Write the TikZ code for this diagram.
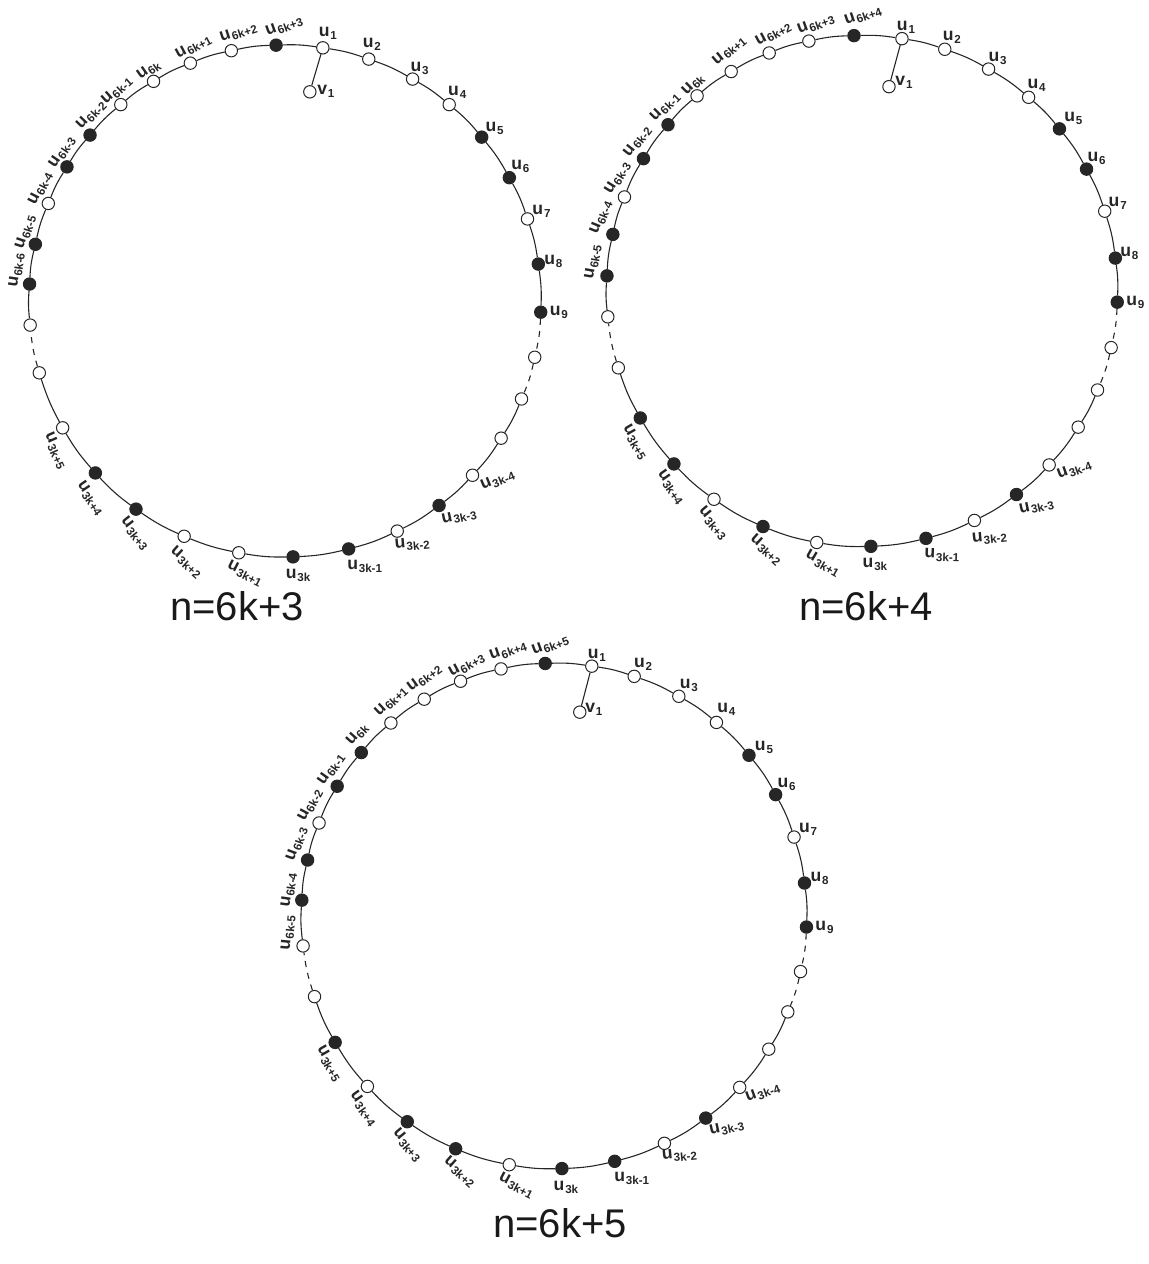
\documentclass[tikz,border=0pt]{standalone}
\usepackage{fontspec}
\setmainfont{Liberation Sans}
\newcommand\usb[2]{#1\kern0.4pt\raisebox{-1.5pt}{\fontsize{5.8}{6}\selectfont #2}}
\newcommand\lbl[4]{\node[lab,rotate=#3] (l#1) at ([shift={(#2)}]#1) {#4};}
\begin{document}
\begin{tikzpicture}[x=0.5pt,y=0.5pt,
  opn/.style={circle,draw=black!85,fill=white,line width=0.5pt,inner sep=0pt,minimum size=6.2pt},
  fil/.style={circle,draw=black!85,fill=black!85,line width=0.5pt,inner sep=0pt,minimum size=6.2pt},
  ring/.style={line width=0.55pt,draw=black!85},
  dsh/.style={ring,dash pattern=on 3pt off 3pt},
  lab/.style={font=\bfseries\fontsize{8.8}{9}\selectfont,inner sep=0pt,text=black!85},
  capt/.style={font=\fontsize{20}{22}\selectfont,text=black!90,inner sep=0pt}]
\useasboundingbox (0,0) rectangle (1148,-1264);
% ---------- circle 1 ----------
\begin{scope}[shift={(285,-301)}]
\foreach \i/\s/\a in {1/opn/81.5,2/opn/70.9,3/opn/60.1,4/opn/50.1,5/fil/39.8,6/fil/28.8,7/opn/18.7,8/fil/8.3,9/fil/-2.5,10/opn/-12.7,11/opn/-22.5,12/opn/-32.4,13/opn/-42.9,14/fil/-53.0,15/opn/-64.0,16/fil/-75.6,17/fil/-88.2,18/opn/-100.4,19/opn/-113.2,20/fil/-125.6,21/fil/-137.8,22/opn/-150.3,23/opn/-163.7,24/opn/-174.6,25/fil/176.2,26/fil/167.2,27/opn/157.6,28/fil/148.4,29/fil/139.6,30/opn/129.9,31/opn/120.9,32/opn/111.7,33/opn/102.1,34/fil/92.0}
  \node[\s] (a\i) at (\a:256) {};
\end{scope}
\node[opn] (va) at ([shift={(-13,-44)}]a1) {};
% ---------- circle 2 ----------
\begin{scope}[shift={(862,-291)}]
\foreach \i/\s/\a in {1/opn/81.0,2/opn/71.1,3/opn/60.3,4/opn/49.3,5/fil/39.4,6/fil/28.5,7/opn/18.2,8/fil/7.4,9/fil/-2.5,10/opn/-12.8,11/opn/-22.8,12/opn/-32.2,13/opn/-42.9,14/fil/-52.8,15/opn/-63.9,16/fil/-75.5,17/fil/-88.0,18/opn/-100.2,19/fil/-112.8,20/opn/-125.4,21/fil/-137.4,22/fil/-150.2,23/opn/-162.5,24/opn/-174.2,25/fil/176.6,26/fil/167.2,27/opn/158.4,28/fil/148.8,29/fil/139.4,30/opn/130.2,31/opn/120.8,32/opn/111.3,33/opn/102.0,34/fil/91.8}
  \node[\s] (b\i) at (\a:255.5) {};
\end{scope}
\node[opn] (vb) at ([shift={(-13,-48)}]b1) {};
% ---------- circle 3 ----------
\begin{scope}[shift={(554,-916)}]
\foreach \i/\s/\a in {1/opn/81.4,2/opn/71.5,3/opn/60.4,4/opn/50.0,5/fil/39.5,6/fil/28.7,7/opn/18.2,8/fil/7.5,9/fil/-2.5,10/opn/-12.7,11/opn/-22.3,12/opn/-31.8,13/opn/-42.7,14/fil/-53.1,15/opn/-64.1,16/fil/-76.1,17/fil/-88.2,18/opn/-100.2,19/fil/-112.9,20/fil/-125.5,21/opn/-137.6,22/fil/-150.0,23/opn/-161.4,24/opn/-173.2,25/fil/176.4,26/fil/167.2,27/opn/158.4,28/fil/149.1,29/fil/139.7,30/opn/130.2,31/opn/120.9,32/opn/111.7,33/opn/102.1,34/fil/92.0}
  \node[\s] (c\i) at (\a:252.7) {};
\end{scope}
\node[opn] (vc) at ([shift={(-12,-46)}]c1) {};
% ---------- ring edges ----------
\foreach \p in {a,b,c}{
  \foreach \i/\j in {1/2,2/3,3/4,4/5,5/6,6/7,7/8,8/9,11/12,12/13,13/14,14/15,15/16,16/17,17/18,18/19,19/20,20/21,21/22,22/23,24/25,25/26,26/27,27/28,28/29,29/30,30/31,31/32,32/33,33/34,34/1}
    \draw[ring] (\p\i) to[bend left=5.3] (\p\j);
  \foreach \i/\j in {9/10,10/11,23/24}
    \draw[dsh] (\p\i) to[bend left=5.3] (\p\j);
}
\draw[ring] (a1) -- (va);
\draw[ring] (b1) -- (vb);
\draw[ring] (c1) -- (vc);
% ---------- labels circle 1 ----------
\lbl{a1}{5,14}{0}{\usb{u}{1}}
\lbl{a2}{3,15}{0}{\usb{u}{2}}
\lbl{a3}{7,11}{0}{\usb{u}{3}}
\lbl{a4}{8,12}{0}{\usb{u}{4}}
\lbl{a5}{13,9}{0}{\usb{u}{5}}
\lbl{a6}{11,11}{0}{\usb{u}{6}}
\lbl{a7}{14,8}{0}{\usb{u}{7}}
\lbl{a8}{15,3}{0}{\usb{u}{8}}
\lbl{a9}{18,0}{0}{\usb{u}{9}}
\lbl{va}{16,0}{0}{\usb{v}{1}}
\lbl{a13}{25,-5}{22}{\usb{u}{3k-4}}
\lbl{a14}{20,-11}{12}{\usb{u}{3k-3}}
\lbl{a15}{15,-13}{5}{\usb{u}{3k-2}}
\lbl{a16}{16,-17}{0}{\usb{u}{3k-1}}
\lbl{a17}{5,-19}{0}{\usb{u}{3k}}
\lbl{a18}{6,-21}{-27}{\usb{u}{3k+1}}
\lbl{a19}{2,-26}{-42}{\usb{u}{3k+2}}
\lbl{a20}{-1,-24}{-52}{\usb{u}{3k+3}}
\lbl{a21}{-5,-25}{-56}{\usb{u}{3k+4}}
\lbl{a22}{-7,-23}{-66}{\usb{u}{3k+5}}
\lbl{a25}{-13,14}{82}{\usb{u}{6k-6}}
\lbl{a26}{-10,12}{72}{\usb{u}{6k-5}}
\lbl{a27}{-8,15}{63}{\usb{u}{6k-4}}
\lbl{a28}{-5,15}{56}{\usb{u}{6k-3}}
\lbl{a29}{1,20}{46}{\usb{u}{6k-2}}
\lbl{a30}{-4,14}{42}{\usb{u}{6k-1}}
\lbl{a31}{-5,11}{35}{\usb{u}{6k}}
\lbl{a32}{3,16}{28}{\usb{u}{6k+1}}
\lbl{a33}{7,18}{18}{\usb{u}{6k+2}}
\lbl{a34}{8,19}{20}{\usb{u}{6k+3}}
% ---------- labels circle 2 ----------
\lbl{b1}{4,11}{0}{\usb{u}{1}}
\lbl{b2}{7,12}{0}{\usb{u}{2}}
\lbl{b3}{9,11}{0}{\usb{u}{3}}
\lbl{b4}{8,12}{0}{\usb{u}{4}}
\lbl{b5}{14,10}{0}{\usb{u}{5}}
\lbl{b6}{10,11}{0}{\usb{u}{6}}
\lbl{b7}{13,8}{0}{\usb{u}{7}}
\lbl{b8}{14,5}{0}{\usb{u}{8}}
\lbl{b9}{18,0}{0}{\usb{u}{9}}
\lbl{vb}{15,4}{0}{\usb{v}{1}}
\lbl{b13}{25,-5}{20}{\usb{u}{3k-4}}
\lbl{b14}{20,-12}{12}{\usb{u}{3k-3}}
\lbl{b15}{15,-17}{5}{\usb{u}{3k-2}}
\lbl{b16}{16,-17}{-2}{\usb{u}{3k-1}}
\lbl{b17}{4,-18}{0}{\usb{u}{3k}}
\lbl{b18}{6,-21}{-30}{\usb{u}{3k+1}}
\lbl{b19}{3,-23}{-42}{\usb{u}{3k+2}}
\lbl{b20}{-1,-24}{-50}{\usb{u}{3k+3}}
\lbl{b21}{-3,-23}{-55}{\usb{u}{3k+4}}
\lbl{b22}{-5,-24}{-60}{\usb{u}{3k+5}}
\lbl{b25}{-14,14}{80}{\usb{u}{6k-5}}
\lbl{b26}{-12,17}{68}{\usb{u}{6k-4}}
\lbl{b27}{-7,19}{58}{\usb{u}{6k-3}}
\lbl{b28}{-6,17}{52}{\usb{u}{6k-2}}
\lbl{b29}{-3,18}{45}{\usb{u}{6k-1}}
\lbl{b30}{-4,11}{45}{\usb{u}{6k}}
\lbl{b31}{-2,21}{40}{\usb{u}{6k+1}}
\lbl{b32}{4,19}{28}{\usb{u}{6k+2}}
\lbl{b33}{7,17}{20}{\usb{u}{6k+3}}
\lbl{b34}{9,20}{19}{\usb{u}{6k+4}}
% ---------- labels circle 3 ----------
\lbl{c1}{5,11}{0}{\usb{u}{1}}
\lbl{c2}{9,12}{0}{\usb{u}{2}}
\lbl{c3}{10,11}{0}{\usb{u}{3}}
\lbl{c4}{10,13}{0}{\usb{u}{4}}
\lbl{c5}{15,8}{0}{\usb{u}{5}}
\lbl{c6}{11,10}{0}{\usb{u}{6}}
\lbl{c7}{14,8}{0}{\usb{u}{7}}
\lbl{c8}{15,5}{0}{\usb{u}{8}}
\lbl{c9}{18,0}{0}{\usb{u}{9}}
\lbl{vc}{14,3}{0}{\usb{v}{1}}
\lbl{c13}{23,-5}{20}{\usb{u}{3k-4}}
\lbl{c14}{21,-10}{12}{\usb{u}{3k-3}}
\lbl{c15}{15,-12}{5}{\usb{u}{3k-2}}
\lbl{c16}{17,-17}{0}{\usb{u}{3k-1}}
\lbl{c17}{4,-19}{0}{\usb{u}{3k}}
\lbl{c18}{7,-21}{-28}{\usb{u}{3k+1}}
\lbl{c19}{4,-23}{-42}{\usb{u}{3k+2}}
\lbl{c20}{0,-23}{-50}{\usb{u}{3k+3}}
\lbl{c21}{-4,-22}{-55}{\usb{u}{3k+4}}
\lbl{c22}{-6,-21}{-60}{\usb{u}{3k+5}}
\lbl{c24}{-15,13}{85}{\usb{u}{6k-5}}
\lbl{c25}{-13,10}{82}{\usb{u}{6k-4}}
\lbl{c26}{-11,16}{70}{\usb{u}{6k-3}}
\lbl{c27}{-9,18}{62}{\usb{u}{6k-2}}
\lbl{c28}{-6,17}{55}{\usb{u}{6k-1}}
\lbl{c29}{-4,18}{48}{\usb{u}{6k}}
\lbl{c30}{0,22}{43}{\usb{u}{6k+1}}
\lbl{c31}{0,21}{36}{\usb{u}{6k+2}}
\lbl{c32}{6,16}{28}{\usb{u}{6k+3}}
\lbl{c33}{7,18}{19}{\usb{u}{6k+4}}
\lbl{c34}{5,18}{20}{\usb{u}{6k+5}}
% ---------- captions ----------
\node[capt] (cap1) at (237,-606) {n=6k+3};
\node[capt] (cap2) at (866,-606) {n=6k+4};
\node[capt] (cap3) at (560,-1223) {n=6k+5};
\end{tikzpicture}
\end{document}
